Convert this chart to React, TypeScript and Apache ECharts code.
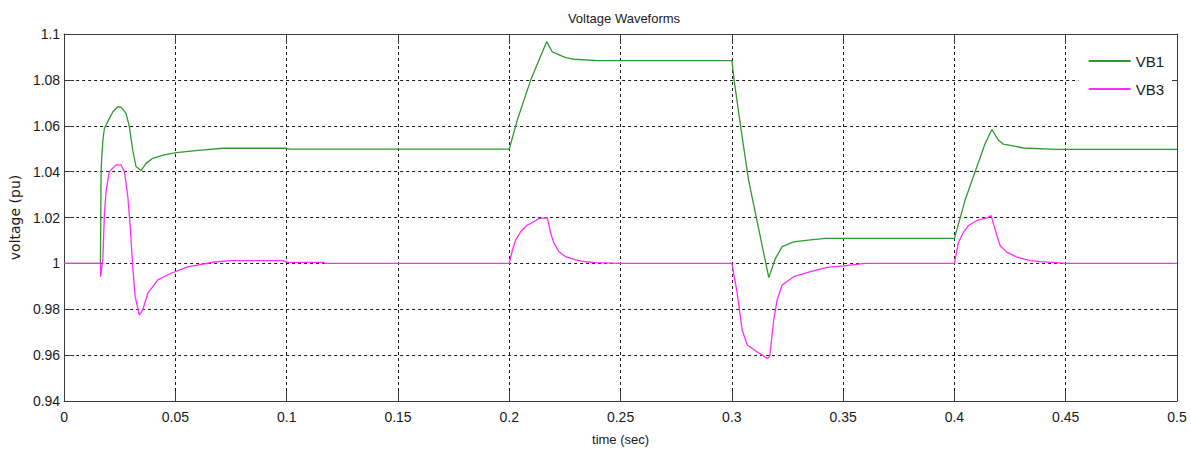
import React, { useEffect, useRef } from "react";
import * as echarts from "echarts";

const title = "Voltage Waveforms";
const xName = "time (sec)";
const yName = "voltage (pu)";
const seriesNames = ["VB1", "VB3"];

const vb1Time = [
  0, 0.0163, 0.0166, 0.017, 0.0174, 0.0181, 0.0196, 0.0219, 0.0241, 0.0256, 0.0278, 0.0293, 0.0308, 0.0323,
  0.0346, 0.0368, 0.0398, 0.045, 0.0503, 0.0615, 0.0712, 0.1, 0.101, 0.2, 0.2036, 0.2096, 0.2168, 0.2193,
  0.2253, 0.2289, 0.24, 0.3, 0.301, 0.3035, 0.3075, 0.3166, 0.3196, 0.3226, 0.3277, 0.3353, 0.342, 0.4,
  0.4048, 0.4101, 0.4138, 0.4168, 0.4197, 0.4219, 0.4264, 0.4309, 0.4461, 0.5,
];
const vb1Values = [
  1.0, 1.0, 1.04, 1.048, 1.0538, 1.0589, 1.0618, 1.0661, 1.0683, 1.068, 1.0654, 1.0596, 1.0494, 1.0422,
  1.0404, 1.0436, 1.0458, 1.0473, 1.0483, 1.0494, 1.0502, 1.0502, 1.0498, 1.0498, 1.0625, 1.0799, 1.0966, 1.0922,
  1.0897, 1.089, 1.0884, 1.0884, 1.08, 1.0627, 1.0363, 0.9938, 1.0022, 1.0073, 1.0094, 1.0102, 1.0109, 1.0109,
  1.0276, 1.0421, 1.0523, 1.0584, 1.0538, 1.052, 1.0512, 1.0503, 1.0497, 1.0497,
];

const vb3Time = [
  0, 0.0163, 0.0164, 0.0174, 0.0181, 0.0189, 0.0203, 0.0233, 0.0256, 0.0271, 0.0286, 0.0298, 0.0308, 0.0319,
  0.0338, 0.0353, 0.0376, 0.0421, 0.048, 0.0555, 0.0675, 0.075, 0.0982, 0.1004, 0.1167, 0.117, 0.2, 0.2014,
  0.2029, 0.2051, 0.2081, 0.2118, 0.2133, 0.2171, 0.2186, 0.2201, 0.2223, 0.2253, 0.2298, 0.2343, 0.2388, 0.25,
  0.3, 0.3024, 0.3046, 0.3069, 0.3113, 0.3158, 0.317, 0.3188, 0.3203, 0.3226, 0.3278, 0.3353, 0.3428, 0.3502,
  0.36, 0.4, 0.4018, 0.4041, 0.4063, 0.4101, 0.4146, 0.4165, 0.4176, 0.4191, 0.4205, 0.4235, 0.4281, 0.434,
  0.4385, 0.4505, 0.5,
];
const vb3Values = [
  1.0, 1.0, 0.9942, 1.002, 1.0218, 1.032, 1.04, 1.0429, 1.0429, 1.04, 1.0291, 1.0146, 0.9986, 0.9855,
  0.9775, 0.9797, 0.987, 0.9928, 0.9957, 0.9985, 1.0006, 1.0012, 1.0012, 1.0004, 1.0004, 1.0, 1.0, 1.0058,
  1.0102, 1.0138, 1.0167, 1.0186, 1.0196, 1.0198, 1.0131, 1.0087, 1.0051, 1.0029, 1.0015, 1.0007, 1.0003, 1.0,
  1.0, 0.987, 0.971, 0.9644, 0.9615, 0.9586, 0.9593, 0.9753, 0.984, 0.9906, 0.9942, 0.9964, 0.9983, 0.9989,
  1.0, 1.0, 1.0092, 1.0136, 1.0165, 1.0187, 1.0198, 1.0208, 1.017, 1.0121, 1.0078, 1.0049, 1.0027, 1.0012,
  1.0008, 1.0, 1.0,
];

const xMin = 0;
const xMax = 0.5;
const xInterval = 0.05;
const yMin = 0.94;
const yMax = 1.1;
const yInterval = 0.02;

const FONT = "Liberation Sans";
const TXT = "#1a1a1a";
const AX = "#3a3a3a";
const GREEN = "#2f9a2f";
const PINK = "#ff2cff";

export default function App() {
  const ref = useRef<HTMLDivElement>(null);
  useEffect(() => {
    document.body.style.margin = "0";
    if (!ref.current) return;
    const chart = echarts.init(ref.current, null, { renderer: "svg" });
    const pair = (t: number[], v: number[]) => t.map((x, i) => [x, v[i]]);
    const axisLine = { show: true, onZero: false, lineStyle: { color: AX, width: 1 } };
    const tick = { show: true, inside: true, length: 10, lineStyle: { color: AX, width: 1 } };
    const split = { show: true, lineStyle: { color: "#1a1a1a", type: [3, 3] as any, width: 1 } };
    chart.setOption({
      animation: false,
      backgroundColor: "#fff",
      title: {
        text: title,
        left: 619,
        textAlign: "center",
        top: 7,
        textStyle: { fontFamily: FONT, fontSize: 13, fontWeight: "normal", color: TXT },
      },
      grid: { left: 63, right: 14, top: 34, bottom: 58, containLabel: false },
      legend: {
        orient: "vertical",
        right: 19,
        top: 45,
        padding: [8, 8, 8, 10],
        icon: "rect",
        itemWidth: 42,
        itemHeight: 2,
        itemGap: 12,
        backgroundColor: "#fff",
        textStyle: { fontFamily: FONT, fontSize: 15, color: TXT, lineHeight: 16 },
        data: seriesNames,
      },
      xAxis: [
        {
          type: "value",
          min: xMin,
          max: xMax,
          interval: xInterval,
          name: xName,
          nameLocation: "middle",
          nameGap: 32,
          nameTextStyle: { fontFamily: FONT, fontSize: 13, color: TXT },
          axisLine,
          axisTick: tick,
          splitLine: split,
          axisLabel: { fontFamily: FONT, fontSize: 14, color: TXT, margin: 9 },
        },
        {
          type: "value",
          position: "top",
          min: xMin,
          max: xMax,
          interval: xInterval,
          axisLine,
          axisTick: tick,
          splitLine: { show: false },
          axisLabel: { show: false },
        },
      ],
      yAxis: [
        {
          type: "value",
          min: yMin,
          max: yMax,
          interval: yInterval,
          name: yName,
          nameLocation: "middle",
          nameGap: 41,
          nameTextStyle: { fontFamily: "DejaVu Sans", fontSize: 14, color: TXT },
          axisLine,
          axisTick: tick,
          splitLine: split,
          axisLabel: { fontFamily: FONT, fontSize: 14, color: TXT, margin: 4 },
        },
        {
          type: "value",
          position: "right",
          min: yMin,
          max: yMax,
          interval: yInterval,
          axisLine,
          axisTick: tick,
          splitLine: { show: false },
          axisLabel: { show: false },
        },
      ],
      series: [
        {
          name: seriesNames[0],
          type: "line",
          showSymbol: false,
          symbol: "none",
          data: pair(vb1Time, vb1Values),
          lineStyle: { color: GREEN, width: 1.3 },
          itemStyle: { color: GREEN },
          z: 3,
        },
        {
          name: seriesNames[1],
          type: "line",
          showSymbol: false,
          symbol: "none",
          data: pair(vb3Time, vb3Values),
          lineStyle: { color: PINK, width: 1.3 },
          itemStyle: { color: PINK },
          z: 4,
        },
      ],
    });
    return () => chart.dispose();
  }, []);
  return <div ref={ref} style={{ width: 1191, height: 459 }} />;
}
